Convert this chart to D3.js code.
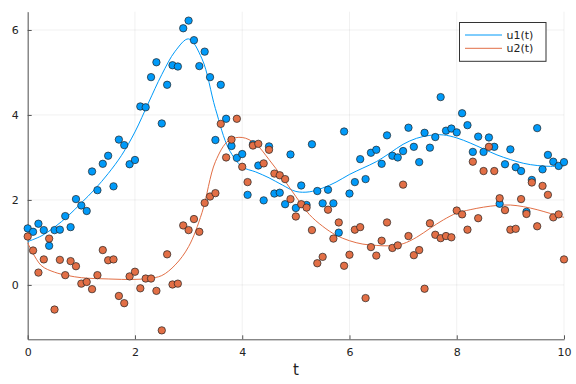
<!DOCTYPE html>
<html>
<head>
<meta charset="utf-8">
<script src="https://cdn.jsdelivr.net/npm/d3@7"></script>
<style>
  body { margin: 0; background: #fff; }
  svg { display: block; font-family: "DejaVu Sans", sans-serif; }
</style>
</head>
<body>
<div id="chart"></div>
<script>
// sample times are 0, 0.1, ... 10
const tStep = 0.1

const u1Data = [1.33, 1.25, 1.44, 1.29, 0.92, 1.29, 1.30, 1.62, 1.36, 2.02,
    1.87, 1.74, 2.67, 2.23, 2.85, 3.04, 2.32, 3.42, 3.29, 2.84,
    2.94, 4.20, 4.18, 4.89, 5.24, 3.80, 4.71, 5.17, 5.14, 6.04,
    6.22, 5.76, 5.15, 5.49, 4.89, 3.41, 4.71, 3.91, 3.27, 2.99,
    3.08, 2.12, 3.31, 2.81, 1.99, 3.26, 2.15, 2.17, 1.90, 3.07,
    1.81, 2.34, 1.88, 3.31, 2.21, 1.92, 2.24, 1.92, 1.23, 3.61,
    2.15, 2.42, 2.96, 2.49, 3.11, 3.18, 2.85, 3.52, 3.04, 3.00,
    3.15, 3.70, 3.25, 2.89, 3.58, 3.23, 3.48, 4.42, 3.63, 3.68,
    3.59, 4.04, 3.76, 3.13, 3.49, 3.13, 3.47, 3.25, 1.91, 2.84,
    3.19, 2.77, 2.68, 1.72, 2.47, 3.69, 2.72, 3.06, 2.90, 2.80, 2.89]

const u2Data = [1.14, 0.81, 0.29, 0.60, 1.09, -0.58, 0.59, 0.23, 0.56, 0.44,
    0.03, 0.07, -0.10, 0.23, 0.82, 0.58, 0.60, -0.26, -0.43, 0.20,
    0.31, -0.08, 0.15, 0.15, -0.14, -1.07, 0.72, 0.01, 0.03, 1.40,
    1.29, 1.55, 1.25, 1.93, 2.08, 2.16, 3.79, 3.00, 3.42, 3.91,
    2.78, 2.42, 3.28, 3.32, 2.86, 3.18, 2.62, 2.58, 2.49, 2.02,
    1.61, 1.90, 1.82, 1.29, 0.51, 0.66, 1.77, 1.09, 1.47, 0.45,
    0.71, 1.30, 1.36, -0.31, 0.89, 0.69, 1.04, 1.47, 0.87, 0.93,
    2.36, 1.15, 0.70, 0.82, -0.09, 1.45, 1.18, 1.10, 1.15, 1.12,
    1.75, 1.66, 1.30, 2.90, 1.57, 2.68, 3.25, 2.68, 2.04, 1.76,
    1.30, 1.32, 2.02, 1.67, 2.41, 1.38, 2.33, 2.12, 1.59, 1.66, 0.60]

// fitted solution, sampled every 0.25
const curveStep = 0.25
const u1Curve = [1.02, 1.15, 1.36, 1.62, 1.93, 2.25, 2.62, 3.05, 3.60, 4.28,
    4.95, 5.50, 5.79, 5.32, 4.15, 3.20, 2.78, 2.66, 2.52, 2.35,
    2.20, 2.19, 2.28, 2.42, 2.60, 2.75, 2.90, 3.10, 3.31, 3.45,
    3.52, 3.53, 3.46, 3.34, 3.20, 3.06, 2.95, 2.86, 2.81, 2.79, 2.80]
const u2Curve = [0.99, 0.46, 0.30, 0.22, 0.17, 0.15, 0.14, 0.13, 0.13, 0.15,
    0.22, 0.47, 0.90, 1.70, 2.90, 3.40, 3.47, 3.32, 2.95, 2.53,
    2.08, 1.66, 1.38, 1.17, 1.04, 0.96, 0.93, 0.92, 0.97, 1.12,
    1.33, 1.53, 1.69, 1.77, 1.83, 1.87, 1.88, 1.84, 1.77, 1.68, 1.59]

const xTicks = [0, 2, 4, 6, 8, 10]
const yTicks = [0, 2, 4, 6]
const seriesNames = ['u1(t)', 'u2(t)']
const colors = ['#009af9', '#e26f46']

const width = 576, height = 384
const plotLeft = 27.7, plotRight = 564, plotTop = 11.7, plotBottom = 339.3

var svg = d3.select('#chart')
    .append('svg')
    .attr('width', width)
    .attr('height', height)

const x = d3.scaleLinear().domain([0, 10]).range([plotLeft, plotRight])
const y = d3.scaleLinear().domain([-1.28, 6.43]).range([plotBottom, plotTop])

// grid
svg.append('g')
    .selectAll('line')
    .data(xTicks)
    .enter()
    .append('line')
    .attr('x1', d => x(d)).attr('x2', d => x(d))
    .attr('y1', plotTop).attr('y2', plotBottom)
    .attr('stroke', '#000').attr('stroke-opacity', 0.1).attr('stroke-width', 0.6)

svg.append('g')
    .selectAll('line')
    .data(yTicks)
    .enter()
    .append('line')
    .attr('x1', plotLeft).attr('x2', plotRight)
    .attr('y1', d => y(d)).attr('y2', d => y(d))
    .attr('stroke', '#000').attr('stroke-opacity', 0.1).attr('stroke-width', 0.6)

// axes, ticks pointing inward
var xAxis = svg.append('g')
    .attr('transform', `translate(0,${plotBottom})`)
    .call(d3.axisBottom(x).tickValues(xTicks).tickSize(-4).tickPadding(9).tickSizeOuter(0))
var yAxis = svg.append('g')
    .attr('transform', `translate(${plotLeft},0)`)
    .call(d3.axisLeft(y).tickValues(yTicks).tickSize(-4).tickPadding(9).tickSizeOuter(0))

for (const ax of [xAxis, yAxis]) {
    ax.select('.domain').attr('stroke', '#555').attr('stroke-width', 1)
    ax.selectAll('.tick line').attr('stroke', '#555').attr('stroke-width', 1)
    ax.selectAll('.tick text')
        .attr('fill', '#222')
        .style('font-size', '11px')
        .style('font-family', '"DejaVu Sans", sans-serif')
}

svg.append('text')
    .attr('x', (plotLeft + plotRight) / 2)
    .attr('y', 375)
    .attr('text-anchor', 'middle')
    .attr('fill', '#222')
    .style('font-size', '15px')
    .text('t')

// fitted curves
const curves = [u1Curve, u2Curve]
var line = d3.line()
    .x((d, i) => x(i * curveStep))
    .y(d => y(d))
    .curve(d3.curveCatmullRom.alpha(0.5))

svg.append('g')
    .selectAll('path')
    .data(curves)
    .enter()
    .append('path')
    .attr('d', d => line(d))
    .attr('fill', 'none')
    .attr('stroke', (d, i) => colors[i])
    .attr('stroke-width', 1)

// scatter points
const observations = [u1Data, u2Data]
observations.forEach((series, k) => {
    svg.append('g')
        .selectAll('circle')
        .data(series)
        .enter()
        .append('circle')
        .attr('cx', (d, i) => x(i * tStep))
        .attr('cy', d => y(d))
        .attr('r', 3.7)
        .attr('fill', colors[k])
        .attr('stroke', '#222')
        .attr('stroke-width', 0.7)
})

// legend
var legend = svg.append('g')
legend.append('rect')
    .attr('x', 459.5).attr('y', 22.5)
    .attr('width', 86.5).attr('height', 38.8)
    .attr('fill', '#fff')
    .attr('stroke', '#333')
    .attr('stroke-width', 1)

seriesNames.forEach((name, i) => {
    const ly = 35 + i * 13.3
    legend.append('line')
        .attr('x1', 465).attr('x2', 502)
        .attr('y1', ly).attr('y2', ly)
        .attr('stroke', colors[i]).attr('stroke-width', 1)
    legend.append('text')
        .attr('x', 506.5).attr('y', ly + 4)
        .attr('fill', '#222')
        .style('font-size', '11px')
        .text(name)
})
</script>
</body>
</html>
